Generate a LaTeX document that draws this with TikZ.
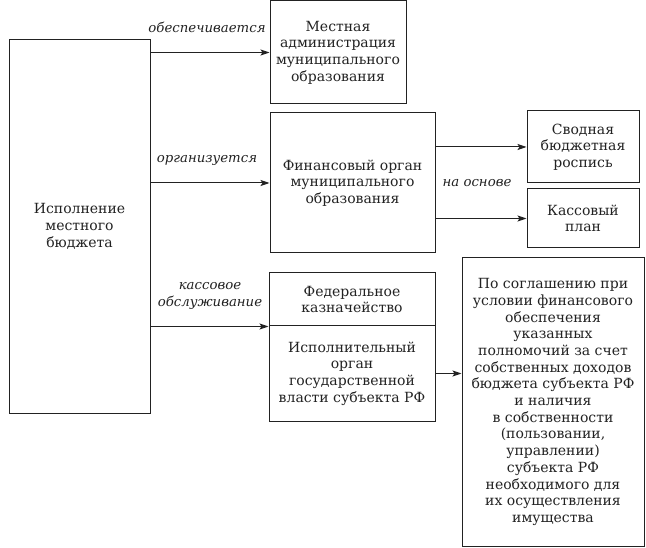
\documentclass[tikz,border=0pt]{standalone}
\usepackage{fontspec}
\setmainfont{DejaVu Serif}
\usetikzlibrary{arrows.meta}
\definecolor{ink}{HTML}{222222}
\tikzset{
  x=1pt,y=-1pt,
  box/.style={draw=ink,line width=1pt,text=ink,align=center,inner sep=2pt,
    font=\fontsize{14}{16.7}\selectfont},
  lbl/.style={text=ink,align=center,inner sep=0pt,
    font=\fontsize{13.3}{17.5}\selectfont\itshape},
  arr/.style={draw=ink,line width=1pt,-{Stealth[length=9pt,width=6pt,inset=2pt]}}
}
\begin{document}
\begin{tikzpicture}
\useasboundingbox (0,0) rectangle (646,548);
\fill[white] (0,0) rectangle (646,548);
\node[box,minimum width=141pt,minimum height=373pt] (isp) at (79.5,226.5) {Исполнение\\местного\\бюджета};
\node[box,minimum width=136pt,minimum height=103pt] (adm) at (338,52.5) {Местная\\администрация\\муниципального\\образования};
\node[box,minimum width=165pt,minimum height=140pt] (fin) at (352.5,183) {Финансовый орган\\муниципального\\образования};
\node[box,minimum width=112pt,minimum height=72pt] (svod) at (583,147) {Сводная\\бюджетная\\роспись};
\node[box,minimum width=112pt,minimum height=59pt] (kas) at (583,218.5) {Кассовый\\план};
\node[box,minimum width=166pt,minimum height=53pt] (fed) at (352,299.5) {Федеральное\\казначейство};
\node[box,minimum width=166pt,minimum height=95pt] (iso) at (352,373.5) {Исполнительный\\орган\\государственной\\власти субъекта РФ};
\node[box,minimum width=182pt,minimum height=288pt] (pos) at (553,402) {По соглашению при\\условии финансового\\обеспечения\\указанных\\полномочий за счет\\собственных доходов\\бюджета субъекта РФ\\и наличия\\в собственности\\(пользовании,\\управлении)\\субъекта РФ\\необходимого для\\их осуществления\\имущества};
\draw[arr] (isp.east |- adm.west) -- (adm.west);
\draw[arr] (isp.east |- fin.west) -- (fin.west);
\draw[arr] (isp.east |- fed.south west) -- (fed.south west);
\draw[arr] (fin.east |- svod.west) -- (svod.west);
\draw[arr] (fin.east |- kas.west) -- (kas.west);
\draw[arr] (iso.east) -- (iso.east -| pos.west);
\node[lbl] (l1) at (207,27) {обеспечивается};
\node[lbl] (l2) at (207,160) {организуется};
\node[lbl] (l3) at (210,296) {кассовое\\обслуживание};
\node[lbl] (l4) at (477,183) {на основе};
\end{tikzpicture}
\end{document}
